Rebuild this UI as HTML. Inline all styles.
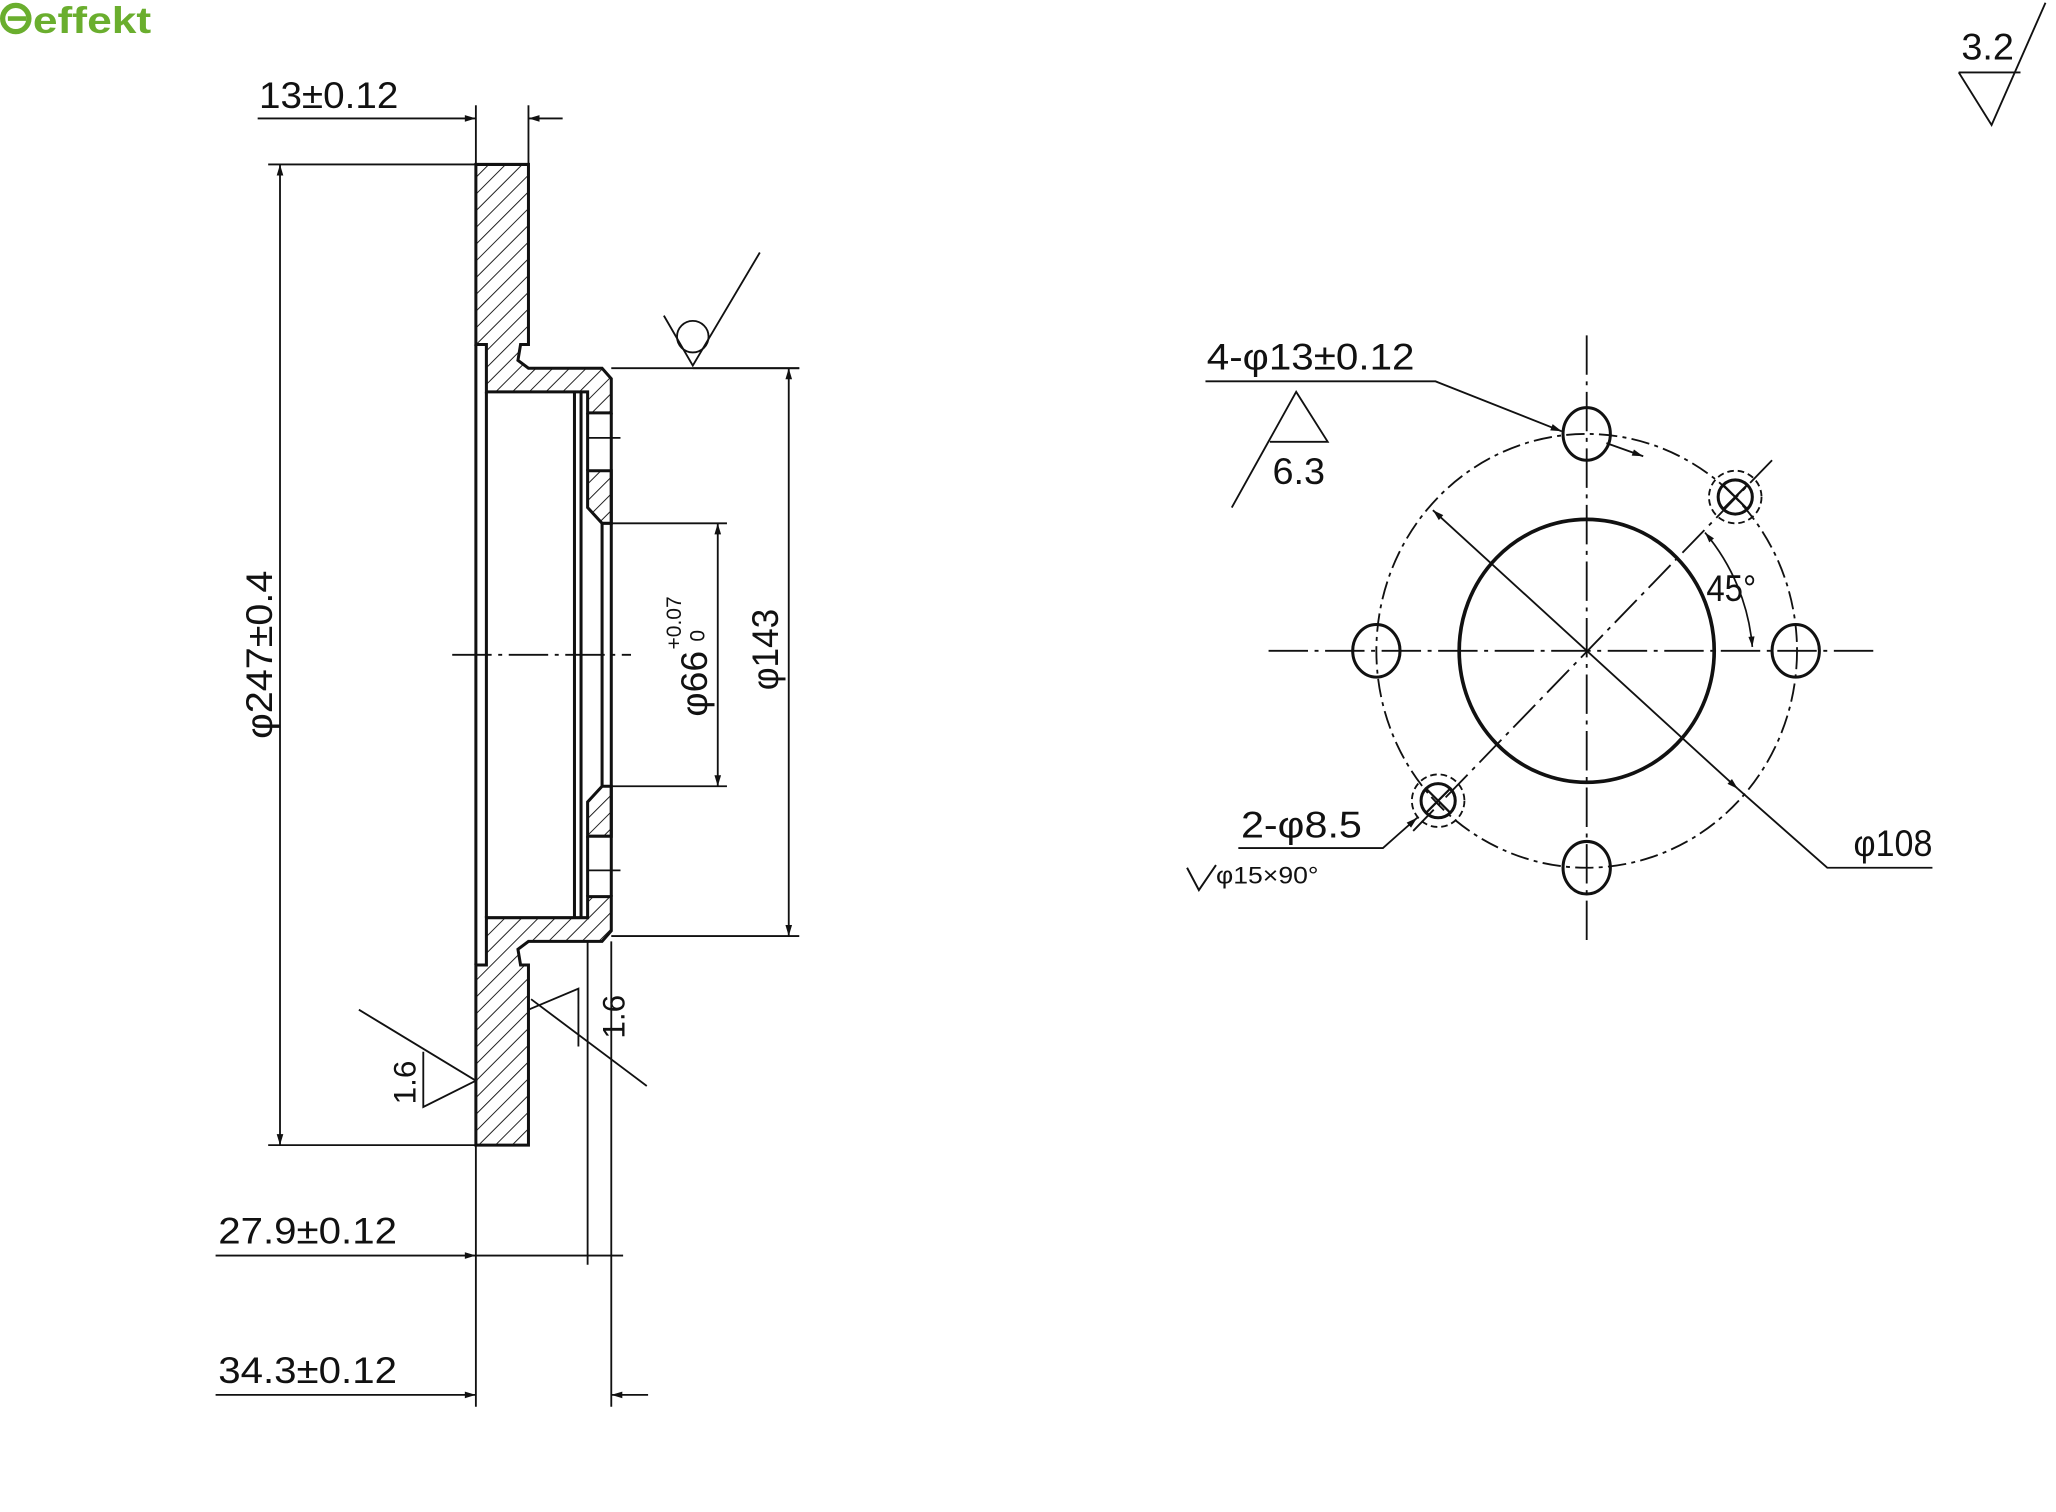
<!DOCTYPE html>
<html><head><meta charset="utf-8"><style>
html,body{margin:0;padding:0;background:#fff;width:2056px;height:1512px;overflow:hidden}
svg{display:block}
text{font-family:"Liberation Sans Narrow","Liberation Sans",sans-serif;fill:#111}
</style></head><body>
<svg width="2056" height="1512" viewBox="0 0 1564 1150" xmlns="http://www.w3.org/2000/svg">
<defs>
<pattern id="h" width="9" height="9" patternUnits="userSpaceOnUse" patternTransform="rotate(45)">
<line x1="0" y1="0" x2="0" y2="9" stroke="#111" stroke-width="1.4"/>
</pattern>
<marker id="a" viewBox="0 0 10 10" refX="10" refY="5" markerWidth="8" markerHeight="6" orient="auto-start-reverse"><path d="M0,2 L10,5 L0,8z" fill="#111"/></marker>
</defs>
<!-- logo -->
<circle cx="12" cy="14" r="10" fill="none" stroke="#6aae2e" stroke-width="4"/>
<line x1="6" y1="14" x2="20" y2="14" stroke="#6aae2e" stroke-width="3.5"/>
<text x="25" y="25" font-size="28" font-weight="bold" textLength="90" lengthAdjust="spacingAndGlyphs" style="fill:#6aae2e;font-family:'Liberation Sans',sans-serif">effekt</text>

<g stroke="#111" stroke-width="2.3" fill="url(#h)">
<path d="M362,125 L402,125 L402,262 L396,262 L394,274 L402,280 L458,280 L465,288 L465,314 L447,314 L447,298 L370,298 L370,262 L362,262 Z"/>
<path d="M447,358 L465,358 L465,398 L458,398 L447,386 Z"/>
<path d="M447,636 L465,636 L465,598 L458,598 L447,610 Z"/>
<path d="M362,871 L402,871 L402,734 L396,734 L394,722 L402,716 L458,716 L465,708 L465,682 L447,682 L447,698 L370,698 L370,734 L362,734 Z"/>
</g>
<g stroke="#111" fill="none" stroke-width="2.3">
<line x1="362" y1="262" x2="362" y2="734"/>
<line x1="370" y1="298" x2="370" y2="698"/>
<line x1="437" y1="298" x2="437" y2="698"/>
<line x1="442" y1="298" x2="442" y2="698"/>
<line x1="465" y1="314" x2="465" y2="682"/>
<line x1="458" y1="398" x2="458" y2="598"/>
<line x1="447" y1="314" x2="447" y2="358"/>
<line x1="447" y1="636" x2="447" y2="682"/>
</g>
<g stroke="#111" fill="none" stroke-width="1.4">
<line x1="344" y1="498" x2="480" y2="498" stroke-dasharray="30,5,3,5"/>
<line x1="448" y1="333" x2="472" y2="333"/>
<line x1="448" y1="662" x2="472" y2="662"/>
<line x1="362" y1="80" x2="362" y2="125"/>
<line x1="402" y1="80" x2="402" y2="125"/>
<line x1="196" y1="90" x2="362" y2="90" marker-end="url(#a)"/>
<line x1="402" y1="90" x2="428" y2="90" marker-start="url(#a)"/>
<line x1="204" y1="125" x2="362" y2="125"/>
<line x1="204" y1="871" x2="362" y2="871"/>
<line x1="213" y1="125" x2="213" y2="871" marker-start="url(#a)" marker-end="url(#a)"/>
<line x1="465" y1="280" x2="608" y2="280"/>
<line x1="465" y1="712" x2="608" y2="712"/>
<line x1="600" y1="280" x2="600" y2="712" marker-start="url(#a)" marker-end="url(#a)"/>
<line x1="458" y1="398" x2="553" y2="398"/>
<line x1="458" y1="598" x2="553" y2="598"/>
<line x1="546" y1="398" x2="546" y2="598" marker-start="url(#a)" marker-end="url(#a)"/>
<line x1="362" y1="871" x2="362" y2="1070"/>
<line x1="447" y1="716" x2="447" y2="962"/>
<line x1="465" y1="716" x2="465" y2="1070"/>
<line x1="164" y1="955" x2="362" y2="955" marker-end="url(#a)"/>
<line x1="362" y1="955" x2="474" y2="955" />
<line x1="164" y1="1061" x2="362" y2="1061" marker-end="url(#a)"/>
<line x1="465" y1="1061" x2="493" y2="1061" marker-start="url(#a)"/>
<path d="M505,240 L527,278 L578,192"/>
<circle cx="527" cy="256" r="12"/>
<line x1="527" y1="280" x2="608" y2="280"/>
<path d="M273,768 L362,822 L322,842 L322,800"/>
<path d="M402,768 L440,752 L440,796 M404,760 L492,826"/>
<path d="M1490,55 L1515,95 L1556,2 M1490,55 L1537,55"/>
<path d="M937,386 L986,298 L1010,336 L966,336"/>
</g>
<g font-size="28">
<text x="197" y="82" textLength="106" lengthAdjust="spacingAndGlyphs">13±0.12</text>
<text x="166" y="946" textLength="136" lengthAdjust="spacingAndGlyphs">27.9±0.12</text>
<text x="166" y="1052" textLength="136" lengthAdjust="spacingAndGlyphs">34.3±0.12</text>
<text transform="translate(207,562) rotate(-90)" textLength="128" lengthAdjust="spacingAndGlyphs">φ247±0.4</text>
<text transform="translate(592,525) rotate(-90)" textLength="62" lengthAdjust="spacingAndGlyphs">φ143</text>
<text transform="translate(538,545) rotate(-90)" textLength="50" lengthAdjust="spacingAndGlyphs">φ66</text>
<text transform="translate(518,494) rotate(-90)" font-size="16">+0.07</text>
<text transform="translate(536,488) rotate(-90)" font-size="16">0</text>
<text transform="translate(316,840) rotate(-90)" font-size="24">1.6</text>
<text transform="translate(475,790) rotate(-90)" font-size="24">1.6</text>
<text x="1492" y="45" textLength="40" lengthAdjust="spacingAndGlyphs">3.2</text>
<text x="918" y="281" textLength="158" lengthAdjust="spacingAndGlyphs">4-φ13±0.12</text>
<text x="968" y="368" textLength="40" lengthAdjust="spacingAndGlyphs">6.3</text>
<text x="944" y="637" textLength="92" lengthAdjust="spacingAndGlyphs">2-φ8.5</text>
<text x="1410" y="651" textLength="60" lengthAdjust="spacingAndGlyphs">φ108</text>
<text x="1298" y="457" textLength="38" lengthAdjust="spacingAndGlyphs">45°</text>
<text x="925" y="672" font-size="18" textLength="78" lengthAdjust="spacingAndGlyphs">φ15×90°</text>
</g>
<path d="M903,660 L912,677 L925,658" stroke="#111" stroke-width="1.5" fill="none"/>

<g stroke="#111" fill="none">
<line x1="965" y1="495" x2="1425" y2="495" stroke-width="1.4" stroke-dasharray="30,5,3,5"/>
<line x1="1207" y1="255" x2="1207" y2="715" stroke-width="1.4" stroke-dasharray="30,5,3,5"/>
<ellipse cx="1207" cy="495" rx="97" ry="100" stroke-width="2.8"/>
<ellipse cx="1207" cy="495" rx="160" ry="165" stroke-width="1.4" stroke-dasharray="14,4,3,4"/>
<ellipse cx="1207" cy="330" rx="18" ry="20" stroke-width="2.3"/>
<ellipse cx="1207" cy="660" rx="18" ry="20" stroke-width="2.3"/>
<ellipse cx="1047" cy="495" rx="18" ry="20" stroke-width="2.3"/>
<ellipse cx="1366" cy="495" rx="18" ry="20" stroke-width="2.3"/>
<circle cx="1320" cy="378" r="13" stroke-width="2.3"/>
<circle cx="1320" cy="378" r="20" stroke-width="1.4" stroke-dasharray="5,3"/>
<circle cx="1094" cy="609" r="13" stroke-width="2.3"/>
<circle cx="1094" cy="609" r="20" stroke-width="1.4" stroke-dasharray="5,3"/>
<path d="M1311,369 L1329,387 M1329,369 L1311,387 M1085,600 L1103,618 M1103,600 L1085,618" stroke-width="1.7"/>
<line x1="1348" y1="350" x2="1075" y2="632" stroke-width="1.4" stroke-dasharray="24,5,3,5"/>
<line x1="1090" y1="388" x2="1322" y2="600" stroke-width="1.4" marker-start="url(#a)" marker-end="url(#a)"/>
<path d="M1322,600 L1390,660 L1470,660" stroke-width="1.4"/>
<path d="M917,290 L1092,290 L1188,328" stroke-width="1.4" marker-end="url(#a)"/>
<line x1="1222" y1="337" x2="1250" y2="347" stroke-width="1.4" marker-end="url(#a)"/>
<path d="M942,645 L1052,645 L1078,622" stroke-width="1.4" marker-end="url(#a)"/>
<path d="M1297,405 A155,155 0 0 1 1333,492" stroke-width="1.3" marker-start="url(#a)" marker-end="url(#a)"/>
</g>
</svg>
</body></html>
